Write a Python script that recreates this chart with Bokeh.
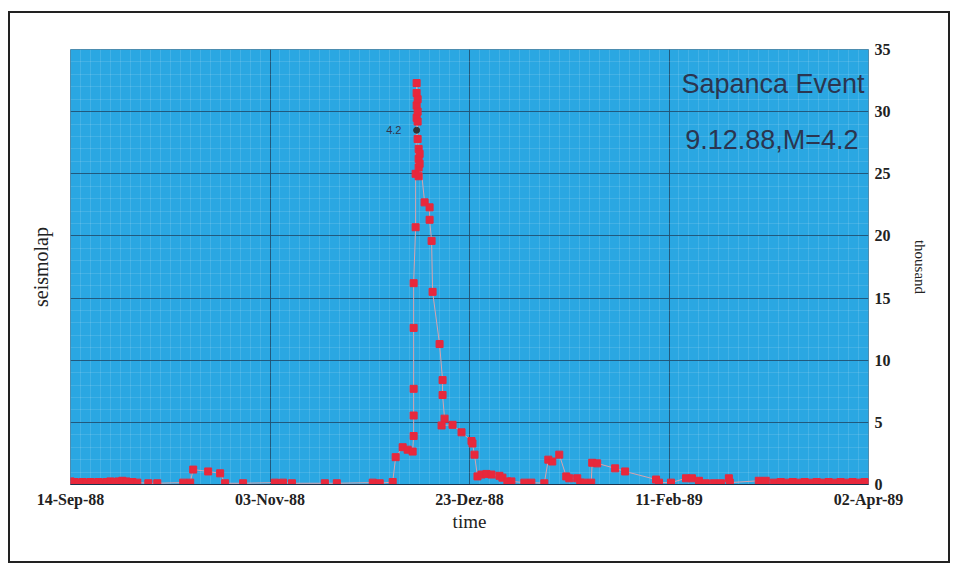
from bokeh.plotting import figure
from bokeh.models import Range1d, FixedTicker, LinearAxis, Label, ColumnDataSource
from bokeh.embed import file_html
from bokeh.resources import INLINE

# ---- data (days since 14-Sep-88, values in thousand) ----
day = [0.0, 1.0, 2.0, 3.0, 4.0, 5.0, 6.0, 7.0, 8.0, 9.0, 10.0, 11.0, 12.0, 13.0, 14.0,
       15.5, 16.75, 19.5, 21.75, 28.25, 30.0, 30.75, 34.5, 37.5, 38.75, 43.25, 51.25,
       53.25, 55.5, 63.75, 66.75, 75.75, 77.5, 80.75, 81.5, 83.25, 84.5, 85.75, 86.0,
       86.0, 86.0, 86.0, 86.0, 86.5, 86.5, 86.75, 86.75, 86.75, 86.75, 87.0, 87.0,
       87.0, 87.0, 87.25, 87.25, 87.25, 87.25, 87.5, 87.5, 88.75, 90.0, 90.0, 90.5,
       90.75, 92.5, 93.25, 93.25, 93.75, 93.0, 95.75, 98.0, 100.5, 100.75, 101.25,
       102.0, 103.0, 104.25, 105.5, 107.5, 108.25, 109.5, 110.5, 113.75, 115.5, 118.75,
       119.75, 120.75, 122.5, 124.25, 125.0, 127.0, 127.75, 128.75, 130.5, 130.75,
       132.0, 136.5, 139.0, 146.75, 147.5, 150.5, 154.25, 155.75, 157.5, 159.25, 161.25,
       163.0, 165.0, 165.25, 172.5, 174.25, 176.25, 178.0, 179.5, 181.0, 182.5, 184.0,
       185.5, 187.0, 188.5, 190.0, 191.5, 193.0, 194.5, 196.0, 197.5, 199.0, 200.0]
seismolap_k = [0.25, 0.2, 0.15, 0.2, 0.15, 0.2, 0.15, 0.2, 0.15, 0.2, 0.25, 0.2, 0.25, 0.3, 0.25,
               0.2, 0.15, 0.1, 0.1, 0.15, 0.15, 1.2, 1.05, 0.9, 0.1, 0.1, 0.15,
               0.15, 0.1, 0.1, 0.1, 0.15, 0.1, 0.2, 2.2, 3.0, 2.8, 2.65, 3.9,
               5.55, 7.7, 12.6, 16.2, 20.7, 25.0, 29.5, 30.5, 31.5, 32.3, 31.0, 30.0,
               29.2, 27.8, 27.0, 26.2, 25.5, 24.8, 25.8, 26.6, 22.7, 22.3, 21.3, 19.6,
               15.5, 11.3, 8.4, 7.2, 5.3, 4.75, 4.8, 4.2, 3.5, 3.3, 2.4,
               0.65, 0.8, 0.85, 0.8, 0.7, 0.55, 0.25, 0.25, 0.15, 0.15, 0.1,
               2.0, 1.85, 2.4, 0.65, 0.5, 0.5, 0.15, 0.15, 0.15, 1.75,
               1.7, 1.3, 1.05, 0.4, 0.15, 0.15, 0.5, 0.5, 0.3, 0.1, 0.1,
               0.1, 0.5, 0.15, 0.3, 0.3, 0.15, 0.2, 0.15, 0.2, 0.15, 0.2,
               0.15, 0.2, 0.15, 0.2, 0.15, 0.2, 0.15, 0.2, 0.15, 0.2, 0.15]

event_day = [86.75]
event_value = [28.5]
event_label = "4.2"

x_ticks = [0, 50, 100, 150, 200]
x_tick_labels = ["14-Sep-88", "03-Nov-88", "23-Dez-88", "11-Feb-89", "02-Apr-89"]
y_ticks = [0, 5, 10, 15, 20, 25, 30, 35]
y_tick_labels = ["0", "5", "10", "15", "20", "25", "30", "35"]

title_lines = ["Sapanca Event", "9.12.88,M=4.2"]

# ---- figure ----
p = figure(width=942, height=552, output_backend="svg", toolbar_location=None,
           x_range=Range1d(0, 200), y_range=Range1d(0, 35), y_axis_location="right",
           min_border_left=60, min_border_right=84, min_border_top=36, min_border_bottom=81)
p.margin = (11, 0, 0, 8)
p.styles = {"border": "2px solid #222"}
p.background_fill_color = "#2aa7e2"
p.border_fill_color = "white"
p.outline_line_color = "#1d5f86"
p.outline_line_alpha = 0.6

xax = p.xaxis[0]
yax = p.yaxis[0]
xax.ticker = FixedTicker(ticks=x_ticks, minor_ticks=[i * 2.5 for i in range(81)])
yax.ticker = FixedTicker(ticks=y_ticks, minor_ticks=[i * 1.0 for i in range(36)])
xax.major_label_overrides = {t: l for t, l in zip(x_ticks, x_tick_labels)}
yax.major_label_overrides = {t: l for t, l in zip(y_ticks, y_tick_labels)}

for ax in (xax, yax):
    ax.major_tick_line_color = None
    ax.minor_tick_line_color = None
    ax.major_label_text_font = "Liberation Serif"
    ax.major_label_text_font_style = "bold"
    ax.major_label_text_color = "#222222"
    ax.axis_label_text_font = "Liberation Serif"
    ax.axis_label_text_font_style = "normal"
    ax.axis_label_text_color = "#222222"

xax.axis_line_color = "#1a3550"
xax.major_label_text_font_size = "16px"
xax.major_label_standoff = 0
xax.axis_label = "time"
xax.axis_label_text_font_size = "19px"
xax.axis_label_standoff = 0

yax.axis_line_color = None
yax.major_label_text_font_size = "16px"
yax.major_label_standoff = 0
yax.axis_label = "thousand"
yax.axis_label_text_font_size = "15px"
yax.axis_label_standoff = 18

left = LinearAxis(axis_label="seismolap", ticker=FixedTicker(ticks=[]),
                  axis_line_color=None, major_tick_line_color=None, minor_tick_line_color=None,
                  major_label_text_font_size="0px", axis_label_text_font="Liberation Serif",
                  axis_label_text_font_size="20px", axis_label_text_font_style="normal",
                  axis_label_text_color="#222222", axis_label_standoff=19)
p.add_layout(left, "left")

for g in (p.xgrid[0], p.ygrid[0]):
    g.grid_line_color = "#1b4a6b"
    g.grid_line_alpha = 0.85
    g.grid_line_width = 1
    g.minor_grid_line_color = "white"
    g.minor_grid_line_alpha = 0.12
p.xgrid[0].ticker = xax.ticker
p.ygrid[0].ticker = yax.ticker

src = ColumnDataSource(dict(day=day, val=seismolap_k))
p.line("day", "val", source=src, line_color="#d9a3ad", line_width=1)
p.scatter("day", "val", source=src, marker="square", size=7,
          fill_color="#e8283c", line_color="#e8283c")
p.scatter(event_day, event_value, marker="circle", size=6, fill_color="#333333", line_color="#333333")
p.add_layout(Label(x=event_day[0] - 3.8, y=event_value[0], text=event_label, text_align="right",
                   text_baseline="middle", text_font="Liberation Sans", text_font_size="11px",
                   text_color="#33334a"))

p.add_layout(Label(x=199, y=32.2, text=title_lines[0], text_align="right", text_baseline="middle",
                   text_font="Liberation Sans", text_font_size="27px", text_color="#2b3550"))
p.add_layout(Label(x=197.5, y=27.7, text=title_lines[1], text_align="right", text_baseline="middle",
                   text_font="Liberation Sans", text_font_size="27px", text_color="#2b3550"))

open("out.html", "w").write(file_html(p, INLINE))
